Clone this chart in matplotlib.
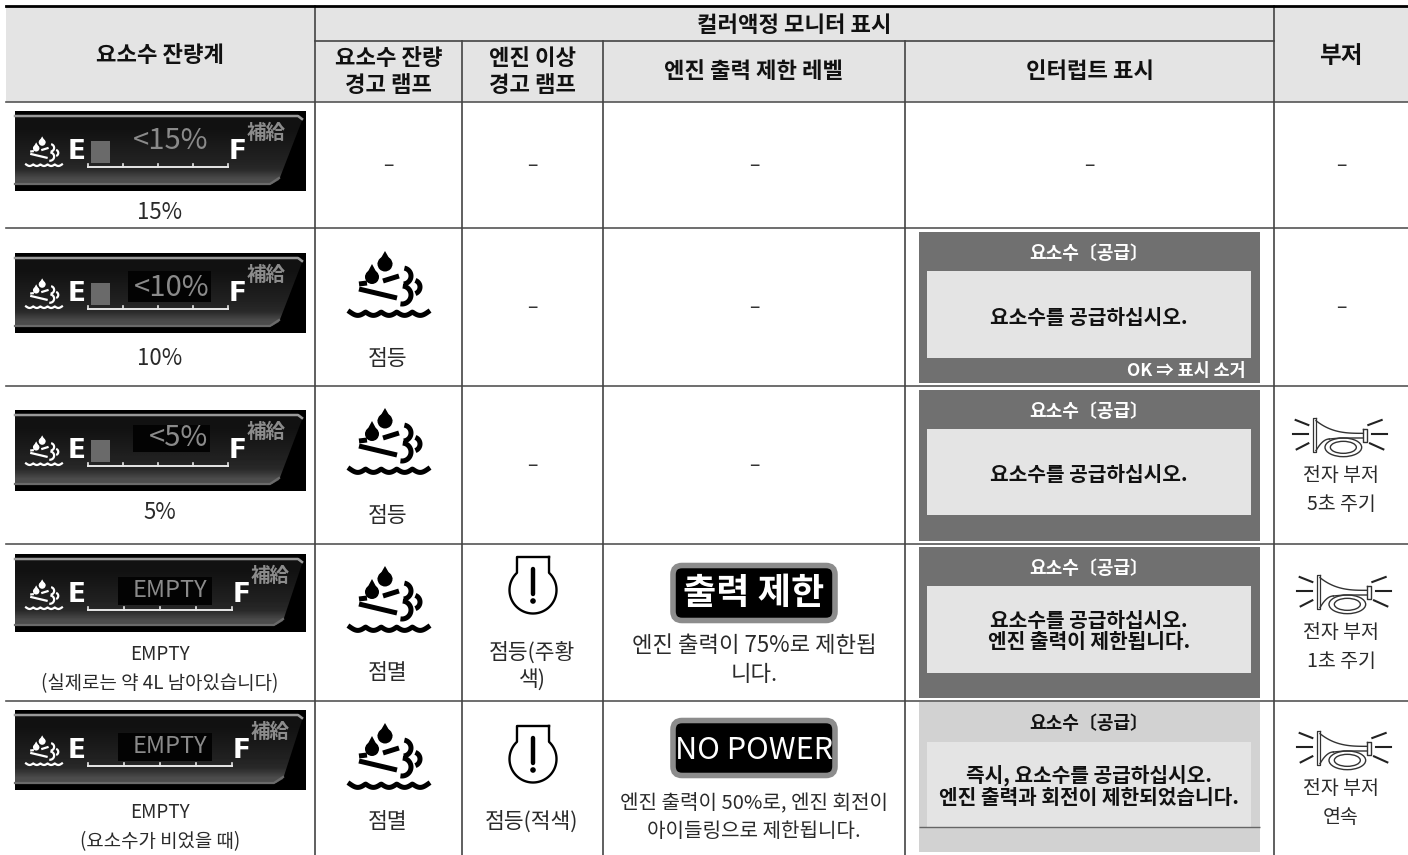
import numpy as np
import matplotlib
matplotlib.use("Agg")
import matplotlib.pyplot as plt
from matplotlib.patches import Rectangle, Polygon, FancyBboxPatch, Ellipse, Circle

plt.rcParams["font.family"] = ["Noto Sans CJK KR", "DejaVu Sans"]

# Table text
hdr_gauge = "요소수 잔량계"
hdr_monitor = "컬러액정 모니터 표시"
hdr_sub = ["요소수 잔량\n경고 램프", "엔진 이상\n경고 램프", "엔진 출력 제한 레벨", "인터럽트 표시"]
hdr_buzzer = "부저"

gauge_readings = ["<15%", "<10%", "<5%", "EMPTY", "EMPTY"]
gauge_fill = [True, True, True, False, False]
gauge_labels = ["15%", "10%", "5%", "EMPTY\n(실제로는 약 4L 남아있습니다)", "EMPTY\n(요소수가 비었을 때)"]
urea_lamp_labels = [None, "점등", "점등", "점멸", "점멸"]
engine_lamp_labels = [None, None, None, "점등(주황\n색)", "점등(적색)"]
badge_labels = [None, None, None, "출력 제한", "NO POWER"]
limit_labels = [None, None, None, "엔진 출력이 75%로 제한됩\n니다.", "엔진 출력이 50%로, 엔진 회전이\n아이들링으로 제한됩니다."]
panel_title = "요소수〔공급〕"
panel_messages = [None, "요소수를 공급하십시오.", "요소수를 공급하십시오.",
                  "요소수를 공급하십시오.\n엔진 출력이 제한됩니다.",
                  "즉시, 요소수를 공급하십시오.\n엔진 출력과 회전이 제한되었습니다."]
panel_foot = "OK ⇒ 표시 소거"
buzzer_labels = [None, None, "전자 부저\n5초 주기", "전자 부저\n1초 주기", "전자 부저\n연속"]

# Layout in reference pixels
col_x = [6, 315, 462, 603, 905, 1274, 1408]
row_y = [102, 228, 386, 544, 701, 855]
gauge_top = [111, 253, 410, 554, 710]
gauge_h = [80, 80, 81, 78, 80]
gauge_dx = [0, 0, 0, 4, 4]
reading_x = [171, 172, 178, 170, 170]
reading_dy = [29, 34, 27, 35, 35]
reading_box = [None, (128, 211, 18, 49), (133, 210, 15, 42), (118, 212, 23, 51), (118, 212, 23, 51)]
label_y = [212, 358, 512, 669, 827]
label_fs = [16, 16, 16, 13.6, 13.6]
urea_y = [None, 285, 442, 600, 757]
urea_label_y = [None, 359, 516, 673, 822]
eng_y = [None, None, None, 590, 759]
eng_label_y = [None, None, None, 666, 822]
badge_y = [None, None, None, 593, 748]
badge_fs = [None, None, None, 26, 22]
limit_y = [None, None, None, 660, 817]
limit_fs = [None, None, None, 16, 14.5]
limit_ls = [None, None, None, 1.36, 1.5]
panel_top = [None, 232, 390, 547, 702]
panel_bot = [None, 383, 541, 698, 852]
inner_top = [None, 271, 429, 586, 742]
inner_bot = [None, 358, 515, 673, 827]
msg_y = [None, 317, 474, 631, 786]
horn_xy = [None, None, (1280, 410), (1284, 567), (1284, 723)]
buzzer_y = [None, None, 490, 647, 803]
dash_cols = {1: [0], 2: [0, 1, 2], 3: [0, 1, 2], 4: [0], 5: [0, 1]}

BODY = "#2a2a2a"

fig = plt.figure(figsize=(14.08, 8.55), dpi=100)
ax = fig.add_axes([0, 0, 1, 1])
ax.set_xlim(0, 1408)
ax.set_ylim(855, 0)
ax.axis("off")


def urea_icon(cx, cy, s, color="black", lw=3.6):
    # icon drawn around its own centre, s=1 is the big lamp (about 78 px wide)
    def P(x, y):
        return cx + (x - 49) * s, cy + (y - 45) * s
    for tx, ty, r in [(45, 11, 7.5), (32, 24, 7)]:
        cyy = ty + 13
        ax.add_patch(Circle(P(tx, cyy), r * s, fc=color, ec="none", zorder=6))
        ax.add_patch(Polygon([P(tx, ty), P(tx - r, cyy), P(tx + r, cyy)], fc=color, ec="none", zorder=6))
    for seg in [((19, 44), (27, 43)), ((43, 41), (59, 36)), ((19, 49), (57, 58))]:
        a, b = P(*seg[0]), P(*seg[1])
        ax.plot([a[0], b[0]], [a[1], b[1]], color=color, lw=lw, solid_capstyle="butt", zorder=6)
    for ax_, ay_, r, t0, t1 in [(63, 36, 8, -80, 85), (73, 47, 7, -70, 70), (62, 55, 9, -85, 100)]:
        t = np.radians(np.linspace(t0, t1, 30))
        x, y = P(ax_ + r * np.cos(t), ay_ + r * np.sin(t))
        ax.plot(x, y, color=color, lw=lw, solid_capstyle="butt", zorder=6)
    wx = np.linspace(10, 88, 120)
    wy = 72 + 3.4 * np.abs(np.sin((wx - 10) / 78 * 5 * np.pi))
    x, y = P(wx, wy)
    ax.plot(x, y, color=color, lw=lw, zorder=6)


def gauge(top, h, reading, fill, dx, rx, rdy, box):
    left, right = 15, 306
    bot = top + h
    ax.add_patch(Rectangle((left, top), right - left, h, fc="black", ec="none", zorder=3))
    shape = Polygon([(left, top + 4), (300, top + 4), (303, top + 7), (279 + dx, bot - 11), (272 + dx, bot - 7), (left, bot - 7)],
                    closed=True, fc="none", ec="none", transform=ax.transData)
    ax.add_patch(shape)
    grad = np.array([[0.07], [0.07], [0.09], [0.11], [0.13], [0.16], [0.30]])
    im = ax.imshow(grad, cmap="gray", vmin=0, vmax=1, extent=(left, right, bot - 7, top + 4), aspect="auto", zorder=4, interpolation="bilinear")
    im.set_clip_path(shape)
    ax.plot([left, 298, 302], [top + 5, top + 5, top + 8], color="#9a9a9a", lw=1.8, zorder=5)
    ax.plot([left, 270 + dx, 279 + dx], [bot - 7, bot - 7, bot - 13], color="#6a6a6a", lw=1.6, zorder=5)
    ax.set_xlim(0, 1408)
    ax.set_ylim(855, 0)

    urea_icon(44, top + 41, 0.46, color="white", lw=1.6)
    ax.text(77, top + 41, "E", color="white", fontsize=19, fontweight="bold", family="DejaVu Sans", ha="center", va="center", zorder=6)
    ax.text(238 + dx, top + 41, "F", color="white", fontsize=19, fontweight="bold", family="DejaVu Sans", ha="center", va="center", zorder=6)
    if fill:
        ax.add_patch(Rectangle((91, top + 30), 19, 22, fc="#6a6a6a", ec="none", zorder=6))
    base = top + 56
    ax.plot([88, 228 + dx], [base, base], color="#e8e8e8", lw=1.4, zorder=6)
    for tx in [88, 123 + dx / 4, 158 + dx / 2, 193 + 3 * dx / 4, 228 + dx]:
        ax.plot([tx, tx], [base - 3, base], color="#e8e8e8", lw=1.2, zorder=6)
    if box is not None:
        ax.add_patch(Rectangle((box[0], top + box[2]), box[1] - box[0], box[3] - box[2], fc="#030303", ec="none", zorder=5))
    fs = 17 if reading == "EMPTY" else 21
    ax.text(rx, top + rdy + 1, reading, color="#8a8a8a", fontsize=fs, ha="center", va="center", zorder=6)
    ax.text(266 + dx, top + 22, "補給", color="#8c8c8c", fontsize=14, fontweight="bold", ha="center", va="center", zorder=6)


def engine_icon(cx, cy):
    t = np.radians(np.linspace(-47, 227, 80))
    x = cx + 23.5 * np.cos(t)
    y = cy + 23.5 * np.sin(t)
    xs = np.r_[cx + 16, x, cx - 16, cx + 16]
    ys = np.r_[cy - 33, y, cy - 33, cy - 33]
    ax.plot(xs, ys, color="black", lw=1.7, zorder=6)
    ax.plot([cx, cx], [cy - 21, cy + 4], color="black", lw=3.2, solid_capstyle="round", zorder=6)
    ax.add_patch(Circle((cx, cy + 11), 2.8, fc="black", ec="none", zorder=6))


def horn_icon(ox, oy):
    def Q(x, y):
        return ox + np.asarray(x) / 3, oy + np.asarray(y) / 3
    for a, b in [((47, 30), (85, 45)), ((40, 72), (85, 72)), ((50, 118), (85, 100)),
                 ((305, 30), (265, 45)), ((275, 72), (320, 72)), ((310, 118), (270, 100))]:
        x, y = Q([a[0], b[0]], [a[1], b[1]])
        ax.plot(x, y, color="#222222", lw=1.5, zorder=6)
    x, y = Q([108, 98, 98, 108, 108], [25, 25, 125, 125, 25])
    ax.plot(x, y, color="#333333", lw=0.9, zorder=6)
    t = np.linspace(0, 1, 30)
    x, y = Q(108 + 142 * t, 32 + 38 * (1 - (1 - t) ** 3))
    ax.plot(x, y, color="#333333", lw=1, zorder=6)
    x, y = Q(108 + 40 * t, 122 - 35 * (1 - (1 - t) ** 2))
    ax.plot(x, y, color="#333333", lw=1, zorder=6)
    x, y = Q([148, 180, 250], [87, 84, 84])
    ax.plot(x, y, color="#333333", lw=1, zorder=6)
    x, y = Q([250, 260, 260, 250, 250], [58, 58, 95, 95, 58])
    ax.plot(x, y, color="#333333", lw=1, zorder=6)
    for w, h in [(110, 56), (78, 36)]:
        ec = Q(190, 112)
        ax.add_patch(Ellipse((float(ec[0]), float(ec[1])), w / 3, h / 3, fc="none", ec="#333333", lw=1, zorder=6))


# Header
ax.add_patch(Rectangle((col_x[0], 6), col_x[-1] - col_x[0], row_y[0] - 6, fc="#e4e4e4", ec="none", zorder=1))
ax.text(160, 56, hdr_gauge, fontsize=16, fontweight="bold", ha="center", va="center", color="#111111", zorder=7)
ax.text(794, 25, hdr_monitor, fontsize=16, fontweight="bold", ha="center", va="center", color="#111111", zorder=7)
ax.text(1341, 56, hdr_buzzer, fontsize=17, fontweight="bold", ha="center", va="center", color="#111111", zorder=7)
for i, txt in enumerate(hdr_sub):
    ax.text((col_x[i + 1] + col_x[i + 2]) / 2, 72, txt, fontsize=16, fontweight="bold", ha="center", va="center",
            color="#111111", linespacing=1.18, zorder=7)

# Grid
ax.plot([col_x[0], col_x[-1]], [6, 6], color="black", lw=2, zorder=8)
ax.plot([col_x[1], col_x[5]], [41, 41], color="#444444", lw=1.2, zorder=8)
for y in row_y[:-1]:
    ax.plot([col_x[0], col_x[-1]], [y, y], color="#555555", lw=1.2, zorder=2)
for x in [col_x[1], col_x[5]]:
    ax.plot([x, x], [6, 855], color="#444444", lw=1.2, zorder=2)
for x in col_x[2:5]:
    ax.plot([x, x], [41, 855], color="#444444", lw=1.2, zorder=2)

# Rows
for r in range(5):
    gauge(gauge_top[r], gauge_h[r], gauge_readings[r], gauge_fill[r], gauge_dx[r], reading_x[r], reading_dy[r], reading_box[r])
    ax.text(160, label_y[r], gauge_labels[r], fontsize=label_fs[r], ha="center", va="center", color=BODY, fontweight="light", linespacing=1.5, zorder=7)

    if urea_y[r] is not None:
        urea_icon(389, urea_y[r], 1.0)
        ax.text(388, urea_label_y[r], urea_lamp_labels[r], fontsize=15.5, ha="center", va="center", color=BODY, fontweight="light", zorder=7)
    if eng_y[r] is not None:
        engine_icon(533, eng_y[r])
        ax.text(532, eng_label_y[r], engine_lamp_labels[r], fontsize=15.5, ha="center", va="center", color=BODY, fontweight="light", linespacing=1.3, zorder=7)
    if badge_y[r] is not None:
        by = badge_y[r]
        ax.add_patch(FancyBboxPatch((673, by - 27.5), 162, 55, boxstyle="round,pad=0,rounding_size=9",
                                    fc="black", ec="#8c8c8c", lw=4, zorder=5))
        ax.text(754, by + (2 if r == 4 else 0), badge_labels[r], color="white", fontsize=badge_fs[r],
                fontweight="bold" if r == 3 else "normal", ha="center", va="center", zorder=6)
        ax.text(754, limit_y[r], limit_labels[r], fontsize=limit_fs[r], ha="center", va="center", color=BODY, fontweight="light", linespacing=limit_ls[r], zorder=7)
    if panel_top[r] is not None:
        light = r == 4
        ax.add_patch(Rectangle((919, panel_top[r]), 341, panel_bot[r] - panel_top[r], fc="#d2d2d2" if light else "#707070", ec="none", zorder=3))
        ax.add_patch(Rectangle((927, inner_top[r]), 324, inner_bot[r] - inner_top[r], fc="#e4e4e4", ec="none", zorder=4))
        ax.text(1089, panel_top[r] + 21, panel_title, color="#111111" if light else "white", fontsize=13, fontweight="bold", ha="center", va="center", zorder=6)
        ax.text(1089, msg_y[r], panel_messages[r], color="#111111", fontsize=14.6, fontweight="bold", ha="center", va="center", linespacing=1.05, zorder=6)
        if light:
            ax.plot([919, 1260], [inner_bot[r], inner_bot[r]], color="#666666", lw=1, solid_capstyle="butt", zorder=5)
    if horn_xy[r] is not None:
        horn_icon(*horn_xy[r])
        ax.text(1341, buzzer_y[r], buzzer_labels[r], fontsize=14, ha="center", va="center", color=BODY, fontweight="light", linespacing=1.5, zorder=7)

ax.text(1186, 371, panel_foot, color="white", fontsize=12.5, fontweight="bold", ha="center", va="center", zorder=6)

# dashes in empty cells
for c, rows in dash_cols.items():
    for r in rows:
        xc = (col_x[c] + col_x[c + 1]) / 2
        yc = (row_y[r] + row_y[r + 1]) / 2
        ax.text(xc, yc, "–", fontsize=14, ha="center", va="center", color="#333333", zorder=7, fontweight="light")

fig.savefig("out.png", dpi=100)
